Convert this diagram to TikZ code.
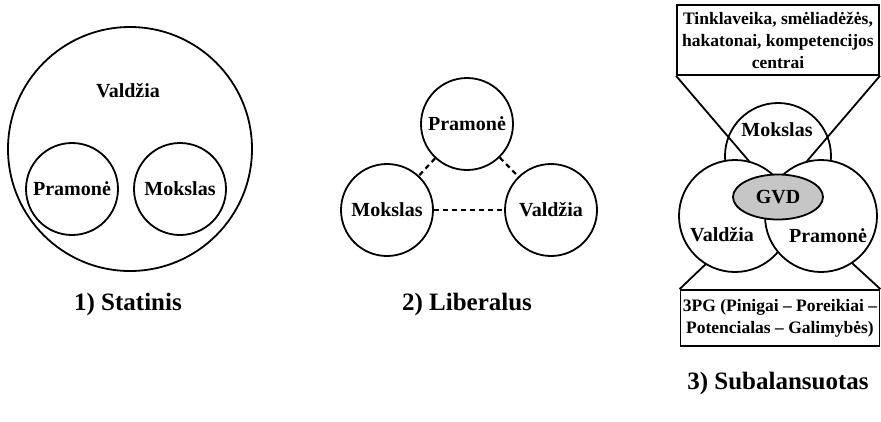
\documentclass[tikz,border=0pt]{standalone}
\usepackage{fontspec}
\setmainfont{Liberation Serif}
\usetikzlibrary{shapes.geometric}

\begin{document}
\begin{tikzpicture}[x=1pt, y=-1pt,
        ring/.style={draw, circle, line width=1.8pt, inner sep=0pt},
        word/.style={font=\bfseries\fontsize{20}{24}\selectfont},
        boxtext/.style={draw, line width=1.8pt, align=center, inner sep=0pt,
            font=\bfseries\fontsize{17.5}{22}\selectfont},
        caption/.style={font=\bfseries\fontsize{25}{30}\selectfont},
        link/.style={line width=2.2pt, dash pattern=on 5pt off 4pt},
        cone/.style={line width=1.8pt}]
        \useasboundingbox (0,0) rectangle (881,421);

        % 1) Statinis
        \node[ring, minimum size=244pt] (vald1) at (130,149) {};
        \node[word] (vald1txt) at (128,91) {Valdžia};
        \node[ring, word, minimum size=92pt] (pram1) at (72,189) {Pramonė};
        \node[ring, word, minimum size=92pt] (moks1) at (180,189) {Mokslas};
        \node[caption] (cap1) at (128,304) {1) Statinis};

        % 2) Liberalus
        \node[ring, word, minimum size=92pt] (pram2) at (467,124) {Pramonė};
        \node[ring, word, minimum size=92pt] (moks2) at (387,210) {Mokslas};
        \node[ring, word, minimum size=92pt] (vald2) at (551,210) {Valdžia};
        \draw[link] (pram2) -- (moks2);
        \draw[link] (pram2) -- (vald2);
        \draw[link] (moks2) -- (vald2);
        \node[caption] (cap2) at (467,304) {2) Liberalus};

        % 3) Subalansuotas
        \node[boxtext, minimum width=202pt, minimum height=70pt] (tools) at (778,40)
            {Tinklaveika, smėliadėžės,\\hakatonai, kompetencijos\\centrai};
        \node[boxtext, minimum width=199pt, minimum height=56pt] (money) at (780,318)
            {3PG (Pinigai – Poreikiai –\\Potencialas – Galimybės)};
        \coordinate (apex) at (778,195);
        \node[ring, minimum size=106pt] (moks3) at (778,156) {};
        \node[word] (moks3txt) at (777,130) {Mokslas};
        \draw[cone] (tools.south west) -- (apex) -- (tools.south east);
        \draw[cone] (money.north west) -- (apex) -- (money.north east);
        \node[ring, fill=white, minimum size=112pt] (vald3) at (735,216) {};
        \node[ring, fill=white, minimum size=112pt] (pram3) at (821,216) {};
        \node[word] (vald3txt) at (722,235) {Valdžia};
        \node[word] (pram3txt) at (828,236) {Pramonė};
        \node[draw, ellipse, line width=1.8pt, fill=gray!45, word,
            minimum width=90pt, minimum height=45pt] (gvd) at (778,197) {GVD};
        \node[caption] (cap3) at (778,383) {3) Subalansuotas};
    \end{tikzpicture}
\end{document}
